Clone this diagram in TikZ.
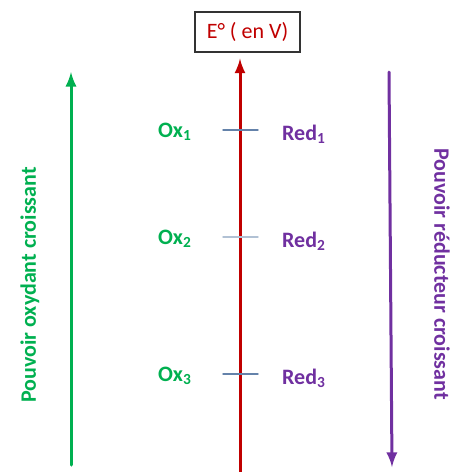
\documentclass[tikz,border=0pt]{standalone}
\usepackage{fontspec}
\setmainfont{Carlito}
\definecolor{oxgreen}{RGB}{0,176,80}
\definecolor{redpurple}{RGB}{112,48,160}
\definecolor{axisred}{RGB}{192,0,0}
\definecolor{tickblue}{RGB}{100,130,170}
\begin{document}
\begin{tikzpicture}[x=0.5pt, y=-0.5pt, >=latex, font=\fontsize{11}{13}\selectfont, line cap=round,
  oxlbl/.style={text=oxgreen, font=\fontsize{11}{13}\selectfont\bfseries},
  redlbl/.style={text=redpurple, font=\fontsize{11}{13}\selectfont\bfseries}]
\useasboundingbox (0,0) rectangle (463,472);
% axe des potentiels
\node[draw=black!80, line width=0.6pt, text=axisred, minimum width=52.5pt, minimum height=20pt, inner sep=0pt] (ebox) at (247.5,32) {E° ( en V)};
\coordinate (ebot) at (240,472);
\draw[->, axisred, line width=1.5pt, shorten >=3pt] (ebot) -- (ebot |- ebox.south);
% couples
\foreach \y/\i/\c in {130/1/100, 237/2/50, 374/3/100} {
  \coordinate (tl\i) at (223,\y);
  \coordinate (tr\i) at (258,\y);
  \draw[tickblue!\c, line width=0.7pt] (tl\i) -- (tr\i);
  \node[oxlbl] (ox\i) at (175,\y+2) {Ox\textsubscript{\i}};
  \node[redlbl] (red\i) at (304,\y+4) {Red\textsubscript{\i}};
}
% pouvoirs
\coordinate (gbot) at (71,465); \coordinate (gtop) at (71,72);
\draw[->, oxgreen, line width=1.5pt] (gbot) -- (gtop);
\node[oxlbl, rotate=90] (pox) at (30,285) {Pouvoir oxydant croissant};
\coordinate (ptop) at (389,72); \coordinate (pbot) at (392,467);
\draw[->, redpurple, line width=1.5pt] (ptop) -- (pbot);
\node[redlbl, rotate=-90] (pred) at (442,274) {Pouvoir réducteur croissant};
\end{tikzpicture}
\end{document}
